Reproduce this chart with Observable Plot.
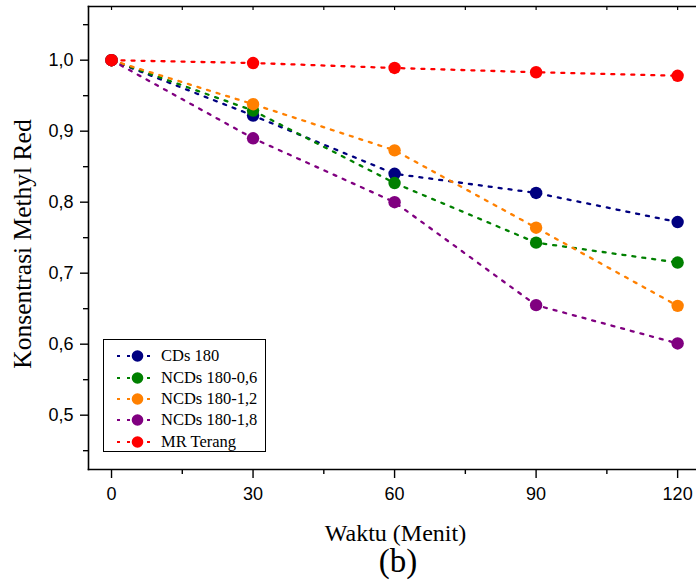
<!DOCTYPE html>
<html><head><meta charset="utf-8">
<script src="https://cdn.jsdelivr.net/npm/d3@7"></script>
<script src="https://cdn.jsdelivr.net/npm/@observablehq/plot@0.6"></script>
<style>
body{margin:0;background:#fff;}
#wrap{position:relative;width:696px;height:581px;overflow:hidden;}
#cap{position:absolute;left:398px;top:544px;transform:translateX(-50%);font-family:"Liberation Serif",serif;font-size:33px;line-height:34px;color:#000;}
#legend{position:absolute;left:103px;top:339px;width:161px;height:111px;border:1px solid #000;background:#fff;box-sizing:content-box;font-family:"Liberation Serif",serif;font-size:16.5px;color:#000;}
.row{position:absolute;left:0;height:20px;display:flex;align-items:center;}
.row span{position:absolute;left:57px;white-space:nowrap;}
</style>
</head><body>
<div id="wrap"><div id="chart"></div><div id="legend"></div><div id="cap">(b)</div></div>
<script>
const waktu = [0, 30, 60, 90, 120];
const seriesNames = ["CDs 180", "NCDs 180-0,6", "NCDs 180-1,2", "NCDs 180-1,8", "MR Terang"];
const seriesColors = ["#000080", "#008000", "#ff8000", "#800080", "#ff0000"];
const cds180   = [1.000, 0.922, 0.840, 0.813, 0.772];
const ncds06   = [1.000, 0.929, 0.827, 0.743, 0.715];
const ncds12   = [1.000, 0.938, 0.873, 0.764, 0.654];
const ncds18   = [1.000, 0.890, 0.800, 0.655, 0.601];
const mrTerang = [1.000, 0.996, 0.989, 0.983, 0.978];
const yTicks = [0.5, 0.6, 0.7, 0.8, 0.9, 1.0];
const yMinor = [0.45, 0.55, 0.65, 0.75, 0.85, 0.95, 1.05];
const xTicks = [0, 30, 60, 90, 120];
const xMinor = [15, 45, 75, 105];

const allSeries = [cds180, ncds06, ncds12, ncds18, mrTerang];
const data = [];
allSeries.forEach((vals, i) => vals.forEach((v, j) => data.push({series: seriesNames[i], t: waktu[j], c: v})));

const color = {domain: seriesNames, range: seriesColors};
const dash = "3,7";

const marks = [
  Plot.frame({anchor: "left", strokeWidth: 1.6}),
  Plot.frame({anchor: "bottom", strokeWidth: 1.6}),
  Plot.frame({anchor: "top", strokeWidth: 1.6}),
  Plot.axisY({ticks: yTicks, tickSize: 8, tickPadding: 7, tickFormat: d => d.toFixed(1).replace(".", ","), fontSize: 18, strokeWidth: 1.4, label: null}),
  Plot.axisY({ticks: yMinor, tickSize: 5, tickFormat: () => "", strokeWidth: 1.4, label: null}),
  Plot.axisX({ticks: xTicks, tickSize: 9, tickPadding: 9, fontSize: 18, strokeWidth: 1.4, label: null}),
  Plot.axisX({ticks: xMinor, tickSize: 5, tickFormat: () => "", strokeWidth: 1.4, label: null}),
  Plot.axisX({anchor: "top", ticks: xTicks.concat(xMinor), tickSize: 3, dy: 3, tickFormat: () => "", strokeWidth: 1.2, label: null}),
  Plot.line(data, {x: "t", y: "c", z: "series", stroke: "series", strokeWidth: 2.3, strokeDasharray: dash})
];
seriesNames.forEach(name => {
  marks.push(Plot.dot(data.filter(d => d.series === name), {x: "t", y: "c", r: 6.2, fill: "series", stroke: "none"}));
});
marks.push(Plot.text(["Waktu (Menit)"], {frameAnchor: "bottom", lineAnchor: "bottom", dx: 3, dy: 71, fontFamily: "Liberation Serif", fontSize: 24, fill: "#000"}));
marks.push(Plot.text(["Konsentrasi Methyl Red"], {frameAnchor: "left", textAnchor: "middle", lineAnchor: "middle", rotate: -90, dx: -66, dy: 6, fontFamily: "Liberation Serif", fontSize: 25.5, fill: "#000"}));

const chart = Plot.plot({
  width: 696, height: 545,
  marginLeft: 88, marginRight: 0, marginTop: 6, marginBottom: 76,
  style: {fontFamily: "Liberation Sans", background: "#fff", color: "#000", overflow: "visible"},
  x: {domain: [-4.88, 124.0], axis: null},
  y: {domain: [0.4235, 1.0756], axis: null},
  color,
  marks
});
document.getElementById("chart").appendChild(chart);

const legend = document.getElementById("legend");
const rowTops = [6, 28, 49, 70, 92];
seriesNames.forEach((name, i) => {
  const row = document.createElement("div");
  row.className = "row";
  row.style.top = rowTops[i] + "px";
  const c = seriesColors[i];
  row.innerHTML = `<svg width="52" height="20" style="position:absolute;left:0;top:0"><line x1="13" y1="10" x2="47" y2="10" stroke="${c}" stroke-width="2.2" stroke-dasharray="3,7"/><circle cx="33.5" cy="10" r="5.8" fill="${c}"/></svg><span>${name}</span>`;
  legend.appendChild(row);
});
</script>
</body></html>
